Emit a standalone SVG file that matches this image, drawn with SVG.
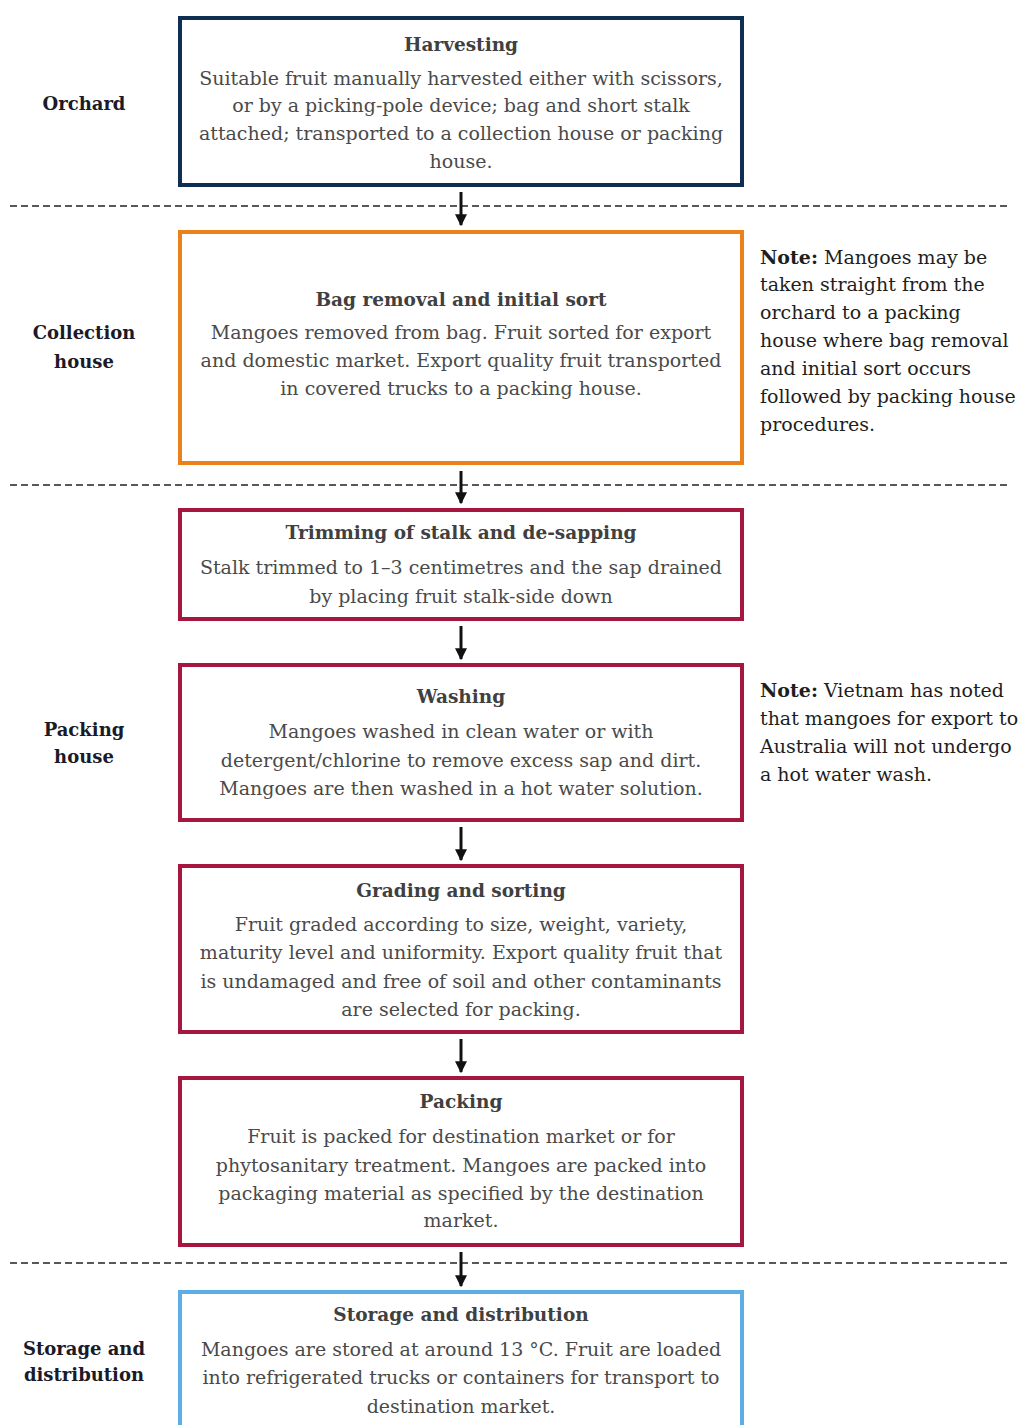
<svg xmlns="http://www.w3.org/2000/svg" width="1023" height="1425" viewBox="0 0 1023 1425">
<defs>
<style>
.box{fill:#fff;stroke-width:4}
.navy{stroke:#0f2f52}
.orange{stroke:#ec8019}
.red{stroke:#a5173f}
.blue{stroke:#5eaee6}
.t{font-family:"DejaVu Serif","Liberation Serif",serif;font-size:18.5px;text-anchor:middle;fill:#404040;font-weight:bold}
.b{font-family:"DejaVu Serif","Liberation Serif",serif;font-size:19px;text-anchor:middle;fill:#4a4a4a}
.lab{font-family:"DejaVu Serif","Liberation Serif",serif;font-size:18px;text-anchor:middle;fill:#1a1a28;font-weight:bold}
.note{font-family:"DejaVu Serif","Liberation Serif",serif;font-size:19px;fill:#1e1e1e}
.dash{stroke:#222;stroke-width:1.5;stroke-dasharray:7 4;fill:none}
.arr{stroke:#111;stroke-width:3;fill:none;marker-end:url(#ah)}
</style>
<marker id="ah" viewBox="0 0 10 10" refX="9" refY="5" markerWidth="4" markerHeight="4" orient="auto" markerUnits="strokeWidth">
<path d="M0,0 L10,5 L0,10 z" fill="#111"/>
</marker>
</defs>
<rect width="1023" height="1425" fill="#fff"/>

<g id="dividers">
<line class="dash" x1="10" y1="206" x2="1010" y2="206"/>
<line class="dash" x1="10" y1="485" x2="1010" y2="485"/>
<line class="dash" x1="10" y1="1263" x2="1010" y2="1263"/>
</g>

<g id="labels">
<text class="lab" x="84" y="110">Orchard</text>
<text class="lab" x="84" y="339">Collection</text>
<text class="lab" x="84" y="368">house</text>
<text class="lab" x="84" y="736">Packing</text>
<text class="lab" x="84" y="763">house</text>
<text class="lab" x="84" y="1355">Storage and</text>
<text class="lab" x="84" y="1381">distribution</text>
</g>

<g id="harvesting">
<rect class="box navy" x="180" y="18" width="562" height="167"/>
<text class="t" x="461" y="51">Harvesting</text>
<text class="b" x="461" y="85">Suitable fruit manually harvested either with scissors,</text>
<text class="b" x="461" y="112">or by a picking-pole device; bag and short stalk</text>
<text class="b" x="461" y="140">attached; transported to a collection house or packing</text>
<text class="b" x="461" y="168">house.</text>
</g>

<g id="bag-removal">
<rect class="box orange" x="180" y="232" width="562" height="231"/>
<text class="t" x="461" y="306">Bag removal and initial sort</text>
<text class="b" x="461" y="339">Mangoes removed from bag. Fruit sorted for export</text>
<text class="b" x="461" y="367">and domestic market. Export quality fruit transported</text>
<text class="b" x="461" y="395">in covered trucks to a packing house.</text>
</g>

<g id="note1">
<text class="note" x="760" y="264"><tspan font-weight="bold">Note:</tspan> Mangoes may be</text>
<text class="note" x="760" y="291">taken straight from the</text>
<text class="note" x="760" y="319">orchard to a packing</text>
<text class="note" x="760" y="347">house where bag removal</text>
<text class="note" x="760" y="375">and initial sort occurs</text>
<text class="note" x="760" y="403">followed by packing house</text>
<text class="note" x="760" y="431">procedures.</text>
</g>

<g id="trimming">
<rect class="box red" x="180" y="510" width="562" height="109"/>
<text class="t" x="461" y="539">Trimming of stalk and de-sapping</text>
<text class="b" x="461" y="574">Stalk trimmed to 1–3 centimetres and the sap drained</text>
<text class="b" x="461" y="603">by placing fruit stalk-side down</text>
</g>

<g id="washing">
<rect class="box red" x="180" y="665" width="562" height="155"/>
<text class="t" x="461" y="703">Washing</text>
<text class="b" x="461" y="738">Mangoes washed in clean water or with</text>
<text class="b" x="461" y="767">detergent/chlorine to remove excess sap and dirt.</text>
<text class="b" x="461" y="795">Mangoes are then washed in a hot water solution.</text>
</g>

<g id="note2">
<text class="note" x="760" y="697"><tspan font-weight="bold">Note:</tspan> Vietnam has noted</text>
<text class="note" x="760" y="725">that mangoes for export to</text>
<text class="note" x="760" y="753">Australia will not undergo</text>
<text class="note" x="760" y="781">a hot water wash.</text>
</g>

<g id="grading">
<rect class="box red" x="180" y="866" width="562" height="166"/>
<text class="t" x="461" y="897">Grading and sorting</text>
<text class="b" x="461" y="931">Fruit graded according to size, weight, variety,</text>
<text class="b" x="461" y="959">maturity level and uniformity. Export quality fruit that</text>
<text class="b" x="461" y="988">is undamaged and free of soil and other contaminants</text>
<text class="b" x="461" y="1016">are selected for packing.</text>
</g>

<g id="packing">
<rect class="box red" x="180" y="1078" width="562" height="167"/>
<text class="t" x="461" y="1108">Packing</text>
<text class="b" x="461" y="1143">Fruit is packed for destination market or for</text>
<text class="b" x="461" y="1172">phytosanitary treatment. Mangoes are packed into</text>
<text class="b" x="461" y="1200">packaging material as specified by the destination</text>
<text class="b" x="461" y="1227">market.</text>
</g>

<g id="storage">
<rect class="box blue" x="180" y="1292" width="562" height="145"/>
<text class="t" x="461" y="1321">Storage and distribution</text>
<text class="b" x="461" y="1356">Mangoes are stored at around 13 °C. Fruit are loaded</text>
<text class="b" x="461" y="1384">into refrigerated trucks or containers for transport to</text>
<text class="b" x="461" y="1413">destination market.</text>
</g>

<g id="connectors">
<line class="arr" x1="461" y1="192" x2="461" y2="225"/>
<line class="arr" x1="461" y1="471" x2="461" y2="503"/>
<line class="arr" x1="461" y1="626" x2="461" y2="659"/>
<line class="arr" x1="461" y1="827" x2="461" y2="860"/>
<line class="arr" x1="461" y1="1039" x2="461" y2="1072"/>
<line class="arr" x1="461" y1="1252" x2="461" y2="1286"/>
</g>
</svg>
